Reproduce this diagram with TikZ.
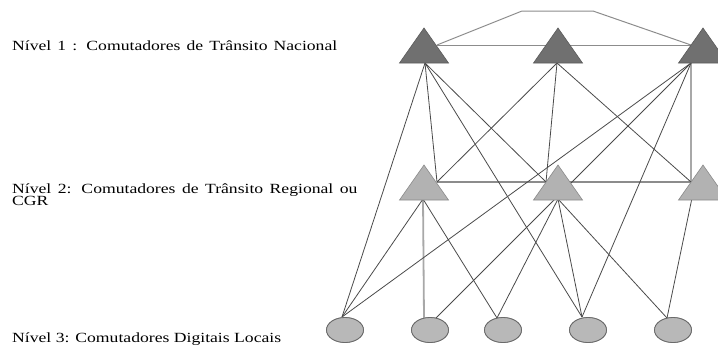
\documentclass[tikz,border=0pt]{standalone}
\usepackage{fontspec}
\usepackage{graphicx}
\setmainfont{Liberation Serif}
\usetikzlibrary{shapes.geometric}

\definecolor{linkdark}{HTML}{4A4A4A}
\definecolor{linkmid}{HTML}{8C8C8C}
\definecolor{linklight}{HTML}{A8A8A8}
\definecolor{natfill}{HTML}{707070}
\definecolor{natedge}{HTML}{5A5A5A}
\definecolor{regfill}{HTML}{B2B2B2}
\definecolor{regedge}{HTML}{8A8A8A}
\definecolor{locfill}{HTML}{B8B8B8}
\definecolor{locedge}{HTML}{6A6A6A}

% level names: slightly widened type; optional width spreads the word gaps
\newcommand{\levellabel}[2][]{\scalebox{1.26}[1]{\fontsize{14}{12.5}\selectfont
  \if\relax\detokenize{#1}\relax #2\else\makebox[#1][s]{#2}\fi}}

\begin{document}
\begin{tikzpicture}[x=1pt,y=-1pt,
  link/.style={draw=linkdark, line width=0.8pt},
  ring/.style={draw=linkmid, line width=1pt},
  trunk/.style={draw=linklight, line width=1.8pt},
  natswitch/.style={fill=natfill, draw=natedge, line width=0.6pt},
  regswitch/.style={fill=regfill, draw=regedge, line width=0.6pt},
  locswitch/.style={ellipse, fill=locfill, draw=locedge, line width=0.8pt,
                    minimum width=37pt, minimum height=25pt, inner sep=0pt},
  levelname/.style={anchor=base west, inner sep=0pt, align=left}
]
\useasboundingbox (0,0) rectangle (718,349);

% apexes of the transit switches (drawn as triangles 49 wide, 35 high)
\coordinate (N1) at (424,28);
\coordinate (N2) at (558,28);
\coordinate (N3) at (703,28);
\coordinate (R1) at (424,165);
\coordinate (R2) at (558,165);
\coordinate (R3) at (703,165);

% local digital switches
\node[locswitch] (L1) at (345,330) {};
\node[locswitch] (L2) at (430,330) {};
\node[locswitch] (L3) at (503,330) {};
\node[locswitch] (L4) at (588,330) {};
\node[locswitch] (L5) at (673,330) {};

% connection ports on the switches
\coordinate (N1b) at (425,63);
\coordinate (N1r) at (437,45);
\coordinate (N2b) at (557,63);
\coordinate (N3b) at (691,63);
\coordinate (N3l) at (691,45);
\coordinate (R1t) at (437,182);
\coordinate (R1b) at (423,199);
\coordinate (R2t) at (546,182);
\coordinate (R2b) at (558,199);
\coordinate (R3t) at (691,182);
\coordinate (R3b) at (692,198);
\coordinate (L1p) at (342,317);
\coordinate (L2v) at (424,318);
\coordinate (L2p) at (436,318);
\coordinate (L3p) at (497,318);
\coordinate (L4p) at (582,317);
\coordinate (L5p) at (667,318);
\coordinate (topL) at (522,11);
\coordinate (topR) at (593,11);

% national ring
\draw[ring] (N1r) -- (topL) -- (topR) -- (N3l);
\draw[ring] (N1r) -- (N3l);

% regional bus
\draw[ring, line width=1.3pt] (R1t) -- (R3t);

% heavy trunks
\draw[trunk] (N3b) -- (R3t);
\draw[trunk] (R1b) -- (L2v);

% level 1 links
\draw[link] (N1b) -- (L1p);
\draw[link] (N1b) -- (R1t);
\draw[link] (N1b) -- (L4p);
\draw[link] (N1b) -- (R2t);
\draw[link] (N2b) -- (R1t);
\draw[link] (N2b) -- (R2t);
\draw[link] (N2b) -- (R3t);
\draw[link] (N3b) -- (L1p);
\draw[link] (N3b) -- (L2p);
\draw[link] (N3b) -- (L4p);

% level 2 links
\draw[link] (R1b) -- (L1p);
\draw[link] (R1b) -- (L3p);
\draw[link] (R2b) -- (L3p);
\draw[link] (R2b) -- (L4p);
\draw[link] (R2b) -- (L5p);
\draw[link] (R3b) -- (L5p);

% transit switches
\foreach \a in {N1,N2,N3}
  \path[natswitch] (\a) -- ++(24.5,35) -- ++(-49,0) -- cycle;
\foreach \a in {R1,R2,R3}
  \path[regswitch] (\a) -- ++(24.5,35) -- ++(-49,0) -- cycle;

% redraw local switches above the links
\foreach \a in {L1,L2,L3,L4,L5}
  \path[fill=locfill, draw=locedge, line width=0.8pt] (\a) ellipse [x radius=18.5pt, y radius=12.5pt];

% level names
\node[levelname] (t1) at (12,50) {\levellabel[258pt]{Nível 1 : Comutadores de Trânsito Nacional}};
\node[levelname] (t2) at (12,193) {\levellabel[274pt]{Nível 2: Comutadores de Trânsito Regional ou}};
\node[levelname] (t2b) at (12,205.5) {\levellabel{CGR}};
\node[levelname] (t3) at (12,342) {\levellabel{Nível 3: Comutadores Digitais Locais}};
\end{tikzpicture}
\end{document}
